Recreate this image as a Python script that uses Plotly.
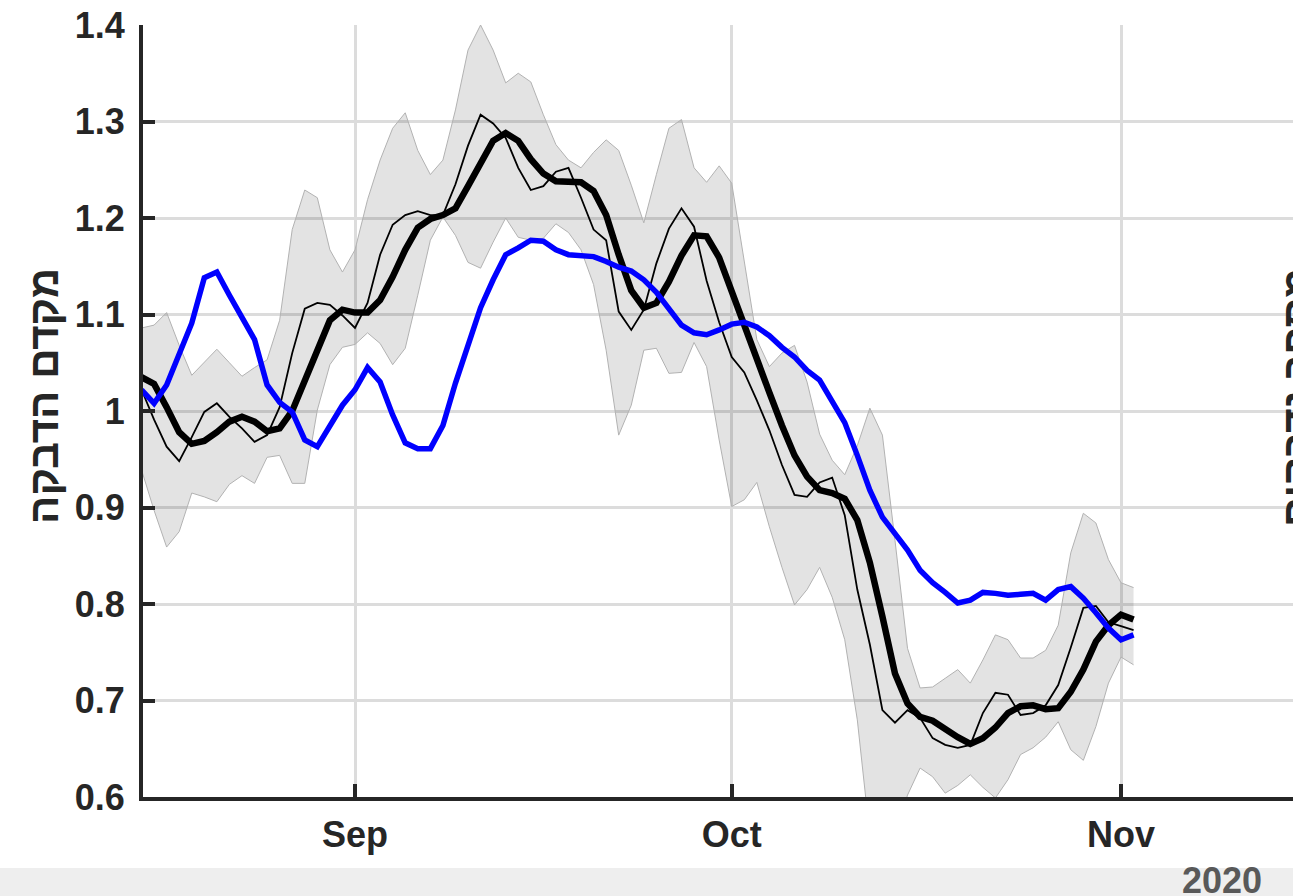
import pandas as pd
import plotly.graph_objects as go

# ---- data (daily, 15 Aug 2020 .. 2 Nov 2020) ----
start_date = "2020-08-15"
n_days = 80
dates = pd.date_range(start_date, periods=n_days, freq="D")

r_smooth = [1.035, 1.028, 1.004, 0.978, 0.966, 0.969, 0.978, 0.989, 0.994, 0.989,
            0.979, 0.982, 1.000, 1.032, 1.064, 1.094, 1.105, 1.102, 1.102, 1.115,
            1.139, 1.167, 1.190, 1.199, 1.203, 1.210, 1.233, 1.258, 1.280, 1.288,
            1.280, 1.261, 1.246, 1.238, 1.238, 1.237, 1.228, 1.203, 1.162, 1.125,
            1.107, 1.112, 1.134, 1.161, 1.182, 1.181, 1.159, 1.123, 1.087, 1.052,
            1.019, 0.985, 0.954, 0.932, 0.918, 0.915, 0.909, 0.887, 0.843, 0.787,
            0.728, 0.697, 0.683, 0.679, 0.670, 0.662, 0.655, 0.661, 0.672, 0.687,
            0.694, 0.695, 0.691, 0.692, 0.709, 0.732, 0.761, 0.778, 0.789, 0.784]

r_raw = [1.022, 0.991, 0.963, 0.948, 0.973, 0.999, 1.008, 0.994, 0.982, 0.968,
         0.975, 1.004, 1.060, 1.106, 1.112, 1.110, 1.099, 1.086, 1.112, 1.162,
         1.193, 1.203, 1.207, 1.203, 1.203, 1.235, 1.275, 1.307, 1.298, 1.283,
         1.252, 1.229, 1.233, 1.248, 1.252, 1.221, 1.188, 1.177, 1.103, 1.084,
         1.105, 1.153, 1.189, 1.210, 1.191, 1.135, 1.092, 1.056, 1.040, 1.011,
         0.980, 0.944, 0.913, 0.911, 0.926, 0.931, 0.892, 0.815, 0.758, 0.690,
         0.677, 0.690, 0.682, 0.661, 0.654, 0.651, 0.654, 0.687, 0.708, 0.706,
         0.685, 0.687, 0.695, 0.716, 0.755, 0.796, 0.798, 0.781, 0.777, 0.773]

r_blue = [1.022, 1.008, 1.027, 1.058, 1.091, 1.138, 1.144, 1.120, 1.098, 1.074,
          1.027, 1.009, 0.999, 0.970, 0.963, 0.985, 1.006, 1.022, 1.045, 1.030,
          0.996, 0.967, 0.961, 0.961, 0.985, 1.029, 1.068, 1.107, 1.136, 1.162,
          1.169, 1.177, 1.176, 1.167, 1.162, 1.161, 1.160, 1.155, 1.149, 1.145,
          1.136, 1.123, 1.105, 1.089, 1.081, 1.079, 1.084, 1.090, 1.092, 1.087,
          1.078, 1.066, 1.056, 1.042, 1.032, 1.011, 0.988, 0.954, 0.918, 0.890,
          0.874, 0.856, 0.835, 0.822, 0.812, 0.801, 0.804, 0.812, 0.811, 0.809,
          0.810, 0.811, 0.804, 0.815, 0.818, 0.806, 0.791, 0.775, 0.763, 0.768]

band_upper = [1.086, 1.089, 1.102, 1.068, 1.037, 1.051, 1.064, 1.050, 1.036, 1.045,
              1.053, 1.094, 1.188, 1.229, 1.221, 1.167, 1.144, 1.167, 1.219, 1.260,
              1.293, 1.309, 1.270, 1.245, 1.260, 1.312, 1.374, 1.400, 1.374, 1.340,
              1.350, 1.341, 1.307, 1.276, 1.260, 1.252, 1.268, 1.281, 1.270, 1.234,
              1.195, 1.245, 1.293, 1.302, 1.252, 1.237, 1.254, 1.236, 1.154, 1.074,
              1.046, 1.060, 1.068, 1.030, 0.976, 0.949, 0.934, 0.964, 1.003, 0.975,
              0.866, 0.754, 0.713, 0.714, 0.723, 0.732, 0.718, 0.742, 0.768, 0.763,
              0.744, 0.744, 0.752, 0.778, 0.853, 0.894, 0.884, 0.846, 0.822, 0.817]

band_lower = [0.939, 0.897, 0.859, 0.875, 0.915, 0.911, 0.906, 0.924, 0.933, 0.925,
              0.952, 0.954, 0.925, 0.925, 1.001, 1.048, 1.066, 1.069, 1.081, 1.070,
              1.048, 1.065, 1.120, 1.177, 1.201, 1.182, 1.154, 1.148, 1.175, 1.200,
              1.180, 1.177, 1.179, 1.194, 1.185, 1.167, 1.131, 1.063, 0.975, 1.006,
              1.063, 1.065, 1.039, 1.040, 1.071, 1.046, 0.970, 0.901, 0.908, 0.926,
              0.880, 0.838, 0.799, 0.815, 0.838, 0.807, 0.763, 0.680, 0.560, 0.540,
              0.560, 0.602, 0.630, 0.621, 0.604, 0.612, 0.623, 0.610, 0.599, 0.618,
              0.644, 0.651, 0.662, 0.678, 0.649, 0.638, 0.673, 0.718, 0.745, 0.737]

x_tick_dates = ["2020-09-01", "2020-10-01", "2020-11-01"]
x_tick_labels = ["Sep", "Oct", "Nov"]
y_tick_vals = [0.6, 0.7, 0.8, 0.9, 1.0, 1.1, 1.2, 1.3, 1.4]
y_tick_labels = ["0.6", "0.7", "0.8", "0.9", "1", "1.1", "1.2", "1.3", "1.4"]
y_title = "מקדם הדבקה"
y2_title = "מספר נדבקים"
year_label = "2020"

# ---- styles ----
FONT = "Liberation Sans, Arial, sans-serif"
AX = "#262626"
GRID = "#dcdcdc"
W, H = 1293, 896
ML, MR, MT, MB = 143, 0, 25, 99
PW, PH = W - ML - MR, H - MT - MB

def px_x(p):
    return (p - ML) / PW

def px_y(p):
    return (H - MB - p) / PH

fig = go.Figure()

fig.add_trace(go.Scatter(x=dates, y=band_lower, mode="lines",
                         line=dict(color="#b2b2b2", width=1), hoverinfo="skip",
                         showlegend=False))
fig.add_trace(go.Scatter(x=dates, y=band_upper, mode="lines", fill="tonexty",
                         fillcolor="rgba(0,0,0,0.11)",
                         line=dict(color="#b2b2b2", width=1), hoverinfo="skip",
                         showlegend=False))
fig.add_trace(go.Scatter(x=dates, y=r_raw, mode="lines",
                         line=dict(color="black", width=1.8), showlegend=False))
fig.add_trace(go.Scatter(x=dates, y=r_smooth, mode="lines",
                         line=dict(color="black", width=6.5), showlegend=False))
fig.add_trace(go.Scatter(x=dates, y=r_blue, mode="lines",
                         line=dict(color="#0000ff", width=5.5), showlegend=False))

fig.update_layout(
    width=W, height=H,
    margin=dict(l=ML, r=MR, t=MT, b=MB),
    paper_bgcolor="white", plot_bgcolor="white",
    font=dict(family=FONT, color=AX, size=36),
    showlegend=False,
    xaxis=dict(
        type="date",
        range=["2020-08-15 02:50", "2020-11-14 16:43"],
        tickmode="array", tickvals=x_tick_dates, ticktext=x_tick_labels,
        showgrid=True, gridcolor=GRID, gridwidth=3,
        showline=True, linecolor=AX, linewidth=4,
        ticks="inside", ticklen=13, tickwidth=4, tickcolor=AX,
        tickfont=dict(family=FONT, size=36, color=AX, weight="bold"),
        ticklabelstandoff=3,
        zeroline=False, fixedrange=True,
    ),
    yaxis=dict(
        range=[0.6, 1.4],
        tickmode="array", tickvals=y_tick_vals, ticktext=y_tick_labels,
        showgrid=True, gridcolor=GRID, gridwidth=3,
        showline=True, linecolor=AX, linewidth=4,
        ticks="inside", ticklen=12, tickwidth=4, tickcolor=AX,
        tickfont=dict(family=FONT, size=36, color=AX, weight="bold"),
        ticklabelstandoff=7,
        zeroline=False, fixedrange=True,
    ),
)

# grey strip along the bottom of the figure
fig.add_shape(type="rect", xref="paper", yref="paper",
              x0=px_x(-20), x1=px_x(W + 20), y0=px_y(H + 20), y1=px_y(868),
              fillcolor="#eeeeee", line=dict(width=0), layer="below")

fig.add_annotation(text=year_label, xref="paper", yref="paper",
                   x=px_x(1222), y=px_y(880), showarrow=False,
                   xanchor="center", yanchor="middle",
                   font=dict(family=FONT, size=36, color="#595959", weight="bold"))

fig.add_annotation(text=y_title, xref="paper", yref="paper",
                   x=px_x(43), y=px_y(396), showarrow=False, textangle=-90,
                   xanchor="center", yanchor="middle",
                   font=dict(family=FONT, size=42, color=AX, weight="bold"))

# right-hand axis title, mostly beyond the right edge of the picture
fig.add_annotation(text=y2_title, xref="paper", yref="paper",
                   x=px_x(1296), y=px_y(397), showarrow=False, textangle=-90,
                   xanchor="center", yanchor="middle",
                   font=dict(family=FONT, size=42, color=AX, weight="bold"))

page_fix = (
    "var s=document.createElement('style');"
    "s.textContent='html,body{margin:0;padding:0;overflow:hidden;scrollbar-width:none;}"
    "::-webkit-scrollbar{display:none;width:0;height:0;}';"
    "document.head.appendChild(s);"
)

fig.write_html("out.html", config={"displayModeBar": False}, post_script=page_fix)
